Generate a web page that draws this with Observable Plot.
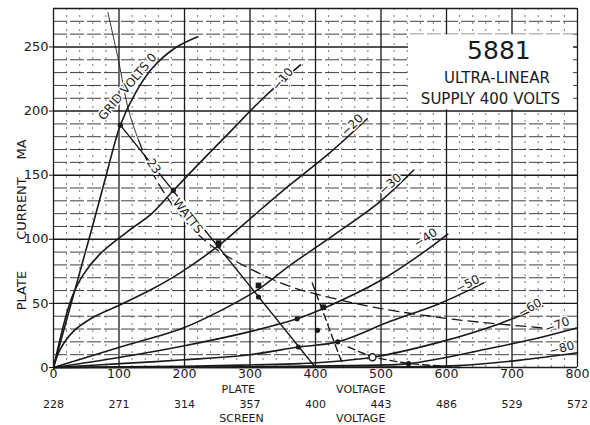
<!DOCTYPE html>
<html><head><meta charset="utf-8">
<script src="https://cdn.jsdelivr.net/npm/d3@7"></script>
<script src="https://cdn.jsdelivr.net/npm/@observablehq/plot@0.6"></script>
<style>body{margin:0;background:#fff;} #chart svg{display:block;}</style>
</head><body><div id="chart"></div>
<script>
// ---- data ----
const plateTicks = [0,100,200,300,400,500,600,700,800];
const screenTicks = ["228","271","314","357","400","443","486","529","572"];
const currentTicks = [0,50,100,150,200,250];
const gridVolts = ["0","-10","-20","-30","-40","-50","-60","-70","-80"];

// plate voltage / plate current (mA) pairs per grid voltage
const curve0  = [[0,0],[20,37],[40,74],[60,111],[80,149],[102,189],[125,214],[150,233],[185,249],[220,258]];
const curve10 = [[0,0],[10,22],[20,42],[30,57],[45,72],[70,88],[113,106],[150,120],[183,138],[224,160],[270,184],[320,210],[377,236]];
const curve20 = [[0,0],[10,14],[30,28],[60,39],[102,49],[150,61],[194,74],[252,95],[300,116],[360,142],[423,168],[479,194]];
const curve30 = [[0,0],[102,16],[194,30],[250,43],[313,61],[362,80],[430,104],[500,130],[550,154]];
const curve40 = [[0,0],[102,8],[200,17],[300,28],[372,38],[412,46],[500,68],[560,88],[602,104]];
const curve50 = [[0,0],[102,3],[200,6],[300,10],[374,16],[434,20],[514,36],[590,50],[657,66]];
const curve60 = [[0,0],[200,1],[300,2],[377,3],[487,8],[591,20],[680,34],[747,48]];
const curve70 = [[0,0],[300,0.5],[450,1.5],[542,3],[667,15],[740,23],[800,31]];
const curve80 = [[0,0],[450,0.3],[617,1.5],[717,6],[800,11.5]];
const curves = [curve0,curve10,curve20,curve30,curve40,curve50,curve60,curve70,curve80];

const curveLabels = ["GRID VOLTS 0","\u221210","\u221220","\u221230","\u221240","\u221250","\u221260","\u221270","\u221280"];
const labelV = [113,350,456,514,568,632,727,769,776];
const labelI = [219,225,189,143,101,65,46.5,33,15];

// 23 watt dissipation curve
const wattsV = [83,99,115,130,153,180,205,218,252,300,357,403,500,621,743,760];
const wattsI = [277,240,200,177,150,128,112,105,91,77,64,57,46,37,31,30];

// load lines
const loadAV = [102,400], loadAI = [189,0];
const loadBV = [395,443], loadBI = [66,0];
const loadCV = [450,487,542,620], loadCI = [16,8,3,0];

// operating points
const dotV = [102,183,252,313,374,372,403,434,542];
const dotI = [189,138,95,55,16,38,29,20,3];
const squareV = [252,313,412], squareI = [97,64,47];
const circleV = [487], circleI = [8];

const titleLines = ["5881","ULTRA-LINEAR","SUPPLY 400 VOLTS"];
const titleBox = {v1:542, v2:794, i1:201, i2:259.5};

// ---- build tables ----
const rows = [];
curves.forEach((c,k)=>c.forEach(([v,i])=>rows.push({v,i,g:gridVolts[k]})));
const pts = (V,I)=>V.map((v,k)=>({v,i:I[k]}));
const watts = pts(wattsV,wattsI);
const labelAngles = [-50,-50,-45,-40,-33,-27,-30,-20,-15];
const labels = curveLabels.map((t,k)=>({t,v:labelV[k],i:labelI[k],a:labelAngles[k]}));

const ink = "#1a1a1a";
const F = "DejaVu Sans";
const below = {frameAnchor:"bottom", lineAnchor:"middle", textAnchor:"middle", fontSize:11, fill:ink};
const side = {frameAnchor:"left", lineAnchor:"middle", textAnchor:"middle", dx:-32, rotate:-90, fontSize:13, fill:ink};

const chart = Plot.plot({
  width:590, height:425,
  marginLeft:53, marginRight:13, marginTop:8, marginBottom:58,
  x:{domain:[0,800]}, y:{domain:[0,280]},
  style:{fontFamily:F, fontSize:"12px", background:"#fff", color:ink},
  marks:[
    // grid
    Plot.ruleX(d3.range(20,800,20).filter(d=>d%100), {stroke:"#555", strokeWidth:0.8, strokeDasharray:"2,5"}),
    Plot.ruleY(d3.range(10,280,10).filter(d=>d%50), {stroke:"#2a2a2a", strokeWidth:0.9, strokeDasharray:"14,3"}),
    Plot.ruleY([0,50,100,150,200,250,280], {stroke:ink, strokeWidth:1.4}),
    Plot.ruleX(plateTicks, {stroke:ink, strokeWidth:1.3}),
    // title box
    Plot.rect([titleBox], {x1:"v1", x2:"v2", y1:"i1", y2:"i2", fill:"#fff"}),
    Plot.text([titleLines[0]], {x:()=>680, y:()=>246.5, fontSize:25, fill:ink}),
    Plot.text([titleLines[1]], {x:()=>677, y:()=>225.5, fontSize:15, fill:ink}),
    Plot.text([titleLines[2]], {x:()=>667, y:()=>209, fontSize:15, fill:ink}),
    // curves
    Plot.line(rows, {x:"v", y:"i", z:"g", stroke:ink, strokeWidth:1.6, curve:"catmull-rom"}),
    Plot.line(watts.slice(0,4), {x:"v", y:"i", stroke:ink, strokeWidth:0.9, curve:"catmull-rom"}),
    Plot.line(watts.slice(3), {x:"v", y:"i", stroke:ink, strokeWidth:1.3, strokeDasharray:"10,6", curve:"catmull-rom"}),
    Plot.line(pts(loadAV,loadAI), {x:"v", y:"i", stroke:ink, strokeWidth:1.4}),
    Plot.line(pts(loadBV,loadBI), {x:"v", y:"i", stroke:ink, strokeWidth:1.4, strokeDasharray:"7,4"}),
    Plot.line(pts(loadCV,loadCI), {x:"v", y:"i", stroke:ink, strokeWidth:1.4, strokeDasharray:"7,4"}),
    // points
    Plot.dot(pts(dotV,dotI), {x:"v", y:"i", r:2.6, fill:ink}),
    Plot.dot(pts(squareV,squareI), {x:"v", y:"i", r:3.2, symbol:"square", fill:ink}),
    Plot.dot(pts(circleV,circleI), {x:"v", y:"i", r:3.5, stroke:ink, strokeWidth:1.4, fill:"#fff"}),
    // curve labels
    Plot.text(labels, {x:"v", y:"i", text:"t", rotate:"a", fontSize:12, fill:ink, stroke:"#fff", strokeWidth:3}),
    Plot.text(["23"], {x:()=>153, y:()=>157, rotate:55, fontSize:12, fill:ink, stroke:"#fff", strokeWidth:4}),
    Plot.text(["WATTS"], {x:()=>205, y:()=>118, rotate:52, fontSize:12, fill:ink, stroke:"#fff", strokeWidth:4}),
    // axes
    Plot.axisY({ticks:currentTicks, tickSize:4, tickPadding:1, fontSize:13, label:null}),
    Plot.axisX({ticks:plateTicks, tickSize:0, tickPadding:2, fontSize:12.5, label:null}),
    Plot.text(screenTicks, {x:(d,k)=>plateTicks[k], dy:36.5, ...below}),
    Plot.text(["PLATE"], {x:()=>282, dy:21.5, ...below}),
    Plot.text(["VOLTAGE"], {x:()=>469, dy:21.5, ...below}),
    Plot.text(["SCREEN"], {x:()=>287, dy:50.5, ...below}),
    Plot.text(["VOLTAGE"], {x:()=>469, dy:50.5, ...below}),
    Plot.text(["PLATE"], {y:()=>60, ...side}),
    Plot.text(["CURRENT"], {y:()=>124, ...side}),
    Plot.text(["MA"], {y:()=>170, ...side})
  ]
});
document.getElementById("chart").append(chart);
</script>
</body></html>
